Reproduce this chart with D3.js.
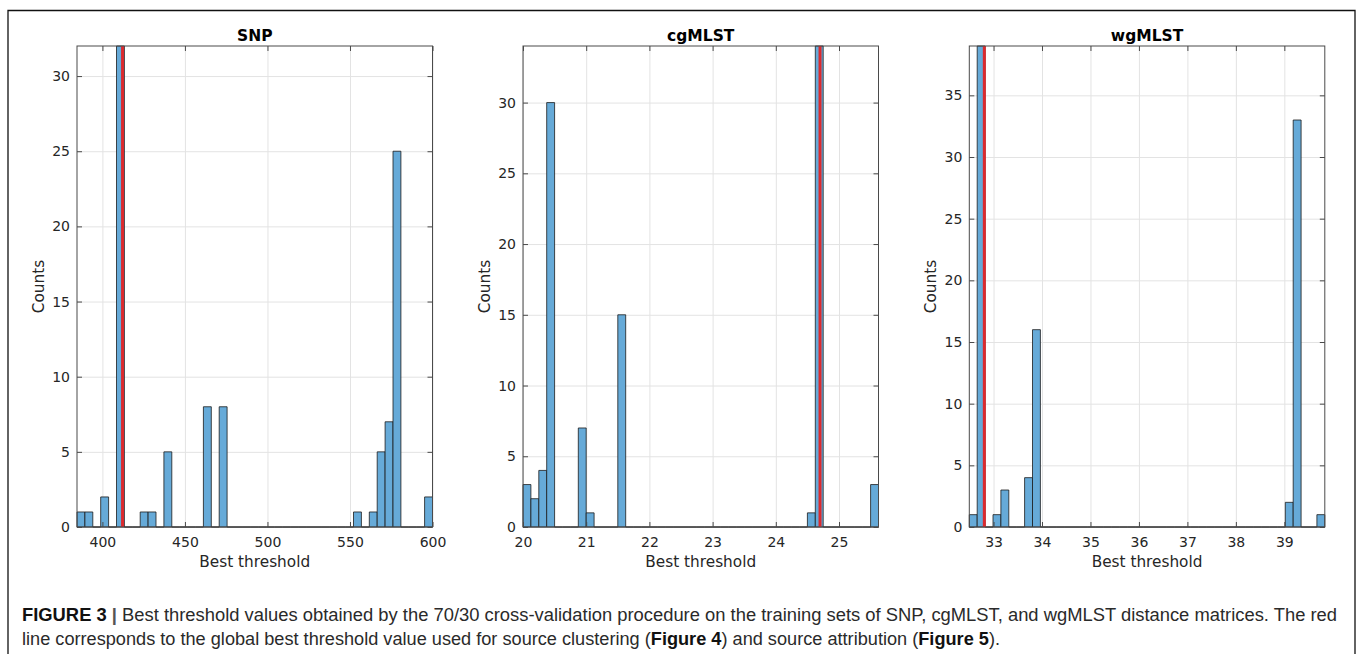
<!DOCTYPE html>
<html>
<head>
<meta charset="utf-8">
<script src="https://cdn.jsdelivr.net/npm/d3@7"></script>
<style>
  body { margin: 0; background: #fff; }
  svg { display: block; }
</style>
</head>
<body>
<div id="chart"></div>
<script>
// ---- Data -------------------------------------------------------------
const panelTitles = ['SNP', 'cgMLST', 'wgMLST'];

// histogram counts, 45 bins per panel (zero bins included)
const snpCounts = [1, 1, 0, 2, 0, 32, 0, 0, 1, 1, 0, 5, 0, 0, 0, 0, 8, 0, 8, 0,
  0, 0, 0, 0, 0, 0, 0, 0, 0, 0, 0, 0, 0, 0, 0, 1, 0, 1, 5, 7, 25, 0, 0, 0, 2];
const cgCounts = [3, 2, 4, 30, 0, 0, 0, 7, 1, 0, 0, 0, 15, 0, 0, 0, 0, 0, 0, 0,
  0, 0, 0, 0, 0, 0, 0, 0, 0, 0, 0, 0, 0, 0, 0, 0, 1, 34, 0, 0, 0, 0, 0, 0, 3];
const wgCounts = [1, 39, 0, 1, 3, 0, 0, 4, 16, 0, 0, 0, 0, 0, 0, 0, 0, 0, 0, 0,
  0, 0, 0, 0, 0, 0, 0, 0, 0, 0, 0, 0, 0, 0, 0, 0, 0, 0, 0, 0, 2, 33, 0, 0, 1];

// first and last bin edge of each histogram (threshold units)
const snpBinRange = [384.6, 600];
const cgBinRange = [20, 25.625];
const wgBinRange = [32.5, 39.835];

// global best threshold (red line)
const bestThresholds = [412.2, 24.70, 32.81];

// axis limits and ticks
const yMaxes = [32, 34, 39];
const snpXTicks = [400, 450, 500, 550, 600];
const cgXTicks = [20, 21, 22, 23, 24, 25];
const wgXTicks = [33, 34, 35, 36, 37, 38, 39];
const snpYTicks = [0, 5, 10, 15, 20, 25, 30];
const cgYTicks = [0, 5, 10, 15, 20, 25, 30];
const wgYTicks = [0, 5, 10, 15, 20, 25, 30, 35];

const xLabel = 'Best threshold';
const yLabel = 'Counts';

const captionLine1 = [
  { text: 'FIGURE 3', bold: true },
  { text: ' | ', bold: true, fill: '#555' },
  { text: 'Best threshold values obtained by the 70/30 cross-validation procedure on the training sets of SNP, cgMLST, and wgMLST distance matrices. The red' }
];
const captionLine2 = [
  { text: 'line corresponds to the global best threshold value used for source clustering (' },
  { text: 'Figure 4', bold: true },
  { text: ') and source attribution (' },
  { text: 'Figure 5', bold: true },
  { text: ').' }
];

const panels = panelTitles.map((title, i) => ({
  title,
  counts: [snpCounts, cgCounts, wgCounts][i],
  binRange: [snpBinRange, cgBinRange, wgBinRange][i],
  best: bestThresholds[i],
  yMax: yMaxes[i],
  xTicks: [snpXTicks, cgXTicks, wgXTicks][i],
  yTicks: [snpYTicks, cgYTicks, wgYTicks][i]
}));

// ---- Dimensions -------------------------------------------------------
const dimensions = {
  width: 1357,
  height: 654,
  panelLefts: [77, 523, 969.3],
  panelWidth: 355.5,
  top: 46,
  bottom: 527
};

const barFill = '#66aad8';
const barStroke = '#1c1c1c';
const gridColor = '#e3e3e3';
const boxColor = '#4a4a4a';
const redColor = '#dc2a2e';
const tickFont = '"DejaVu Sans", sans-serif';

// ---- Canvas -----------------------------------------------------------
const svg = d3.select('#chart')
  .append('svg')
  .attr('width', dimensions.width)
  .attr('height', dimensions.height);

// figure frame
svg.append('path')
  .attr('d', `M8,${dimensions.height + 2} V10.5 H1355 V${dimensions.height + 2}`)
  .attr('fill', 'none')
  .attr('stroke', '#111')
  .attr('stroke-width', 1.3);

// ---- Panels -----------------------------------------------------------
panels.forEach((p, pi) => {
  const x0 = dimensions.panelLefts[pi];
  const x1 = x0 + dimensions.panelWidth;
  const y0 = dimensions.top;
  const y1 = dimensions.bottom;

  const [lo, hi] = p.binRange;
  const binW = (hi - lo) / p.counts.length;

  const xScale = d3.scaleLinear().domain([lo, hi]).range([x0, x1]);
  const yScale = d3.scaleLinear().domain([0, p.yMax]).range([y1, y0]);

  const g = svg.append('g');

  // grid
  g.append('g')
    .attr('transform', `translate(0,${y1})`)
    .call(d3.axisBottom(xScale).tickValues(p.xTicks).tickSize(-(y1 - y0)).tickFormat(''))
    .call(s => s.select('.domain').remove())
    .call(s => s.selectAll('line').attr('stroke', gridColor));
  g.append('g')
    .attr('transform', `translate(${x0},0)`)
    .call(d3.axisLeft(yScale).tickValues(p.yTicks).tickSize(-(x1 - x0)).tickFormat(''))
    .call(s => s.select('.domain').remove())
    .call(s => s.selectAll('line').attr('stroke', gridColor));

  // bars
  g.append('g')
    .selectAll('path')
    .data(p.counts)
    .join('path')
    .attr('d', (c, i) => {
      const bx0 = xScale(lo + i * binW);
      const bx1 = xScale(lo + (i + 1) * binW);
      return `M${bx0},${yScale(0)}V${yScale(c)}H${bx1}V${yScale(0)}Z`;
    })
    .attr('fill', barFill)
    .attr('stroke', barStroke)
    .attr('stroke-width', 0.8);

  // best threshold line
  g.append('line')
    .attr('x1', xScale(p.best))
    .attr('x2', xScale(p.best))
    .attr('y1', yScale(0))
    .attr('y2', yScale(p.yMax))
    .attr('stroke', redColor)
    .attr('stroke-width', 3);

  // axes box
  g.append('rect')
    .attr('x', x0).attr('y', y0)
    .attr('width', x1 - x0).attr('height', y1 - y0)
    .attr('fill', 'none')
    .attr('stroke', boxColor)
    .attr('stroke-width', 1);

  // ticks (inward, mirrored)
  const styleAxis = s => {
    s.select('.domain').remove();
    s.selectAll('.tick line').attr('stroke', boxColor);
    s.selectAll('.tick text')
      .attr('fill', '#262626')
      .style('font-family', tickFont)
      .style('font-size', '14px');
  };
  g.append('g')
    .attr('transform', `translate(0,${y1})`)
    .call(d3.axisBottom(xScale).tickValues(p.xTicks).tickSize(-5).tickPadding(9.6).tickFormat(d3.format('d')))
    .call(styleAxis);
  g.append('g')
    .attr('transform', `translate(0,${y0})`)
    .call(d3.axisTop(xScale).tickValues(p.xTicks).tickSize(-5).tickFormat(''))
    .call(styleAxis);
  g.append('g')
    .attr('transform', `translate(${x0},0)`)
    .call(d3.axisLeft(yScale).tickValues(p.yTicks).tickSize(-5).tickPadding(7))
    .call(styleAxis);
  g.append('g')
    .attr('transform', `translate(${x1},0)`)
    .call(d3.axisRight(yScale).tickValues(p.yTicks).tickSize(-5).tickFormat(''))
    .call(styleAxis);

  // title
  g.append('text')
    .attr('x', (x0 + x1) / 2)
    .attr('y', 41)
    .attr('text-anchor', 'middle')
    .style('font-family', tickFont)
    .style('font-weight', 'bold')
    .style('font-size', '15.5px')
    .attr('fill', '#000')
    .text(p.title);

  // axis labels
  g.append('text')
    .attr('x', (x0 + x1) / 2)
    .attr('y', 566.5)
    .attr('text-anchor', 'middle')
    .style('font-family', tickFont)
    .style('font-size', '15.3px')
    .attr('fill', '#262626')
    .text(xLabel);

  g.append('text')
    .attr('transform', `translate(${x0 - 33},${(y0 + y1) / 2}) rotate(-90)`)
    .attr('text-anchor', 'middle')
    .style('font-family', tickFont)
    .style('font-size', '15.3px')
    .attr('fill', '#262626')
    .text(yLabel);
});

// ---- Caption ----------------------------------------------------------
const caption = [
  { parts: captionLine1, y: 621, x0: 22, x1: 1337 },
  { parts: captionLine2, y: 645, x0: 22, x1: 1000 }
];
caption.forEach(line => {
  const t = svg.append('text')
    .attr('x', line.x0)
    .attr('y', line.y)
    .attr('textLength', line.x1 - line.x0)
    .attr('lengthAdjust', 'spacingAndGlyphs')
    .style('font-family', '"Liberation Sans", Arial, sans-serif')
    .style('font-size', '17.5px')
    .attr('fill', '#2a2a2a');
  line.parts.forEach(part => {
    t.append('tspan')
      .style('font-weight', part.bold ? 'bold' : 'normal')
      .attr('fill', part.fill || (part.bold ? '#111' : '#2a2a2a'))
      .text(part.text);
  });
});
</script>
</body>
</html>
